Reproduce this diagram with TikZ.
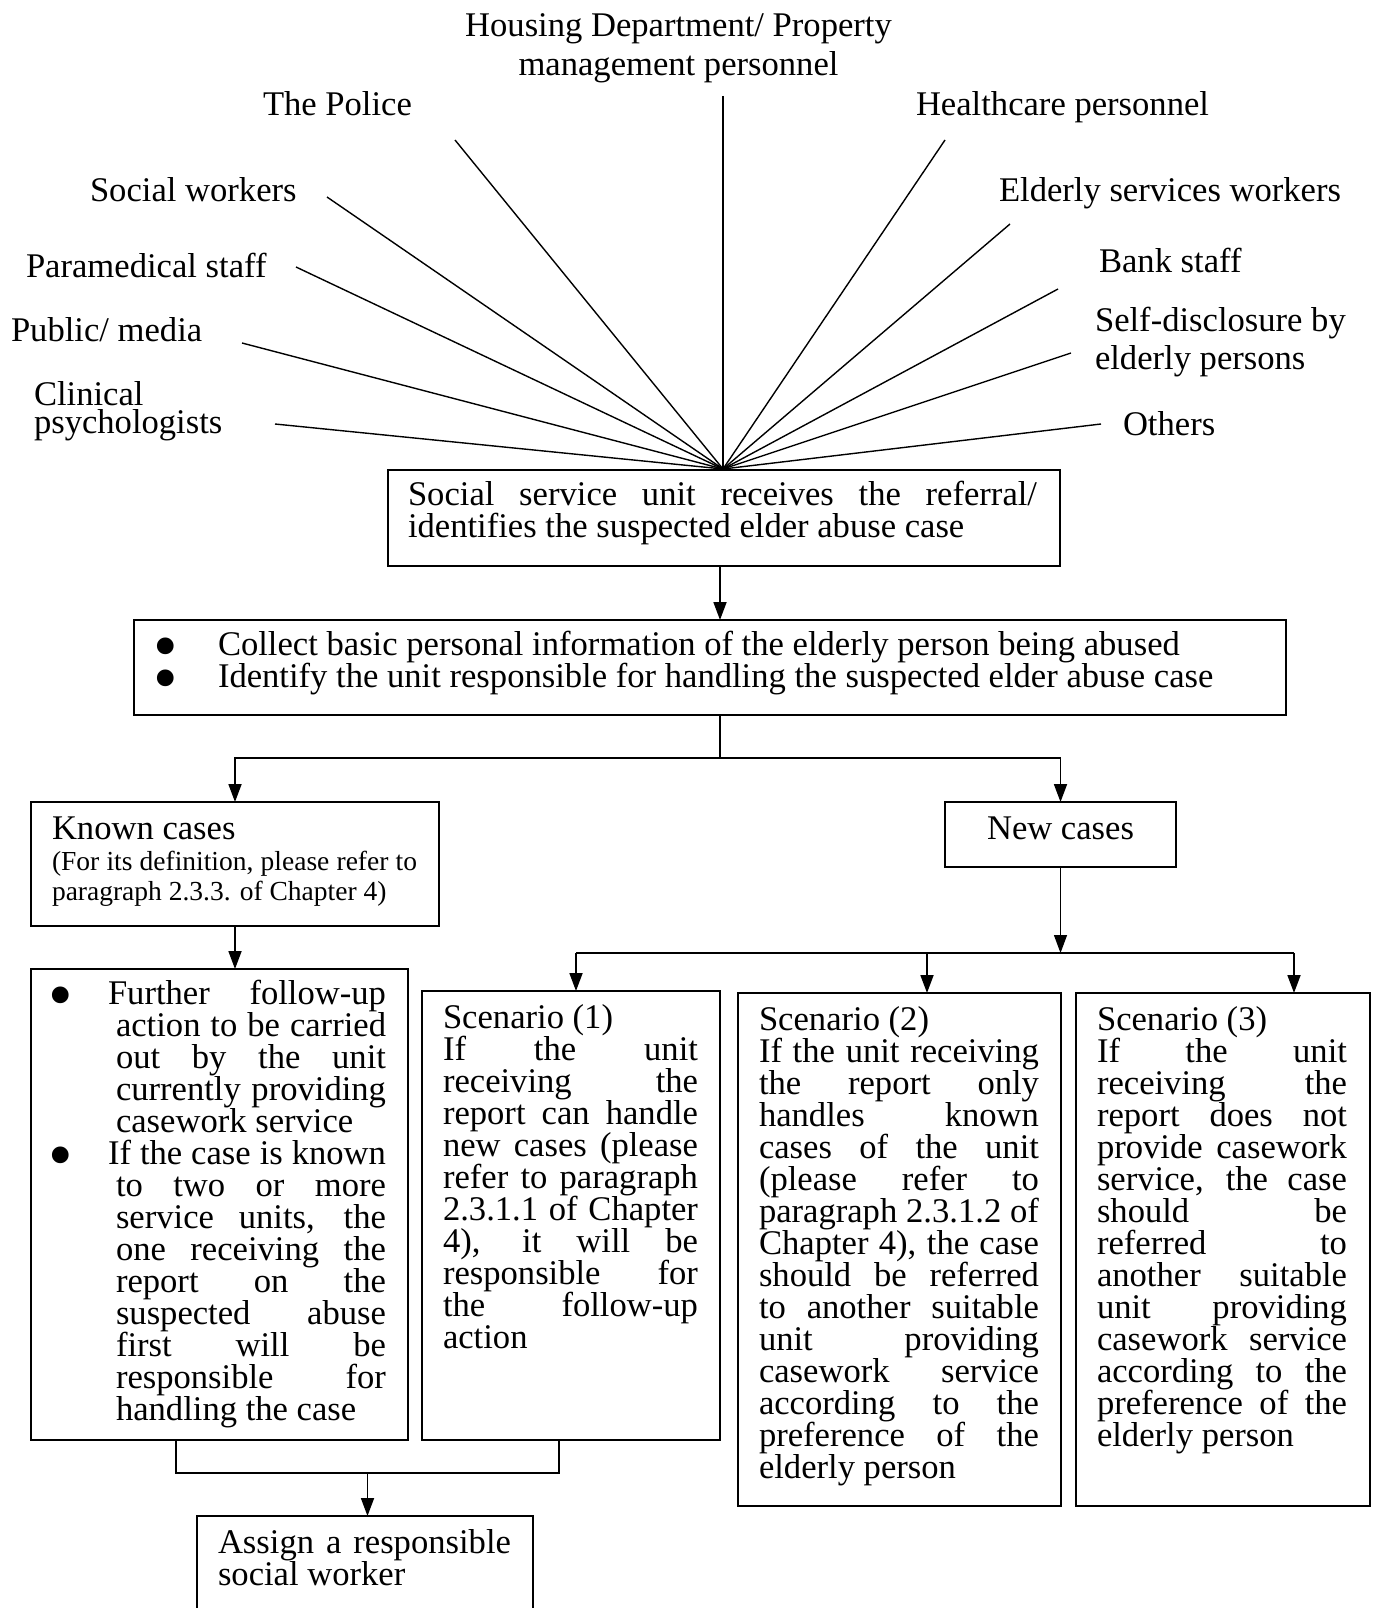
\documentclass[tikz,border=0pt]{standalone}
\usepackage{fontspec}
\setmainfont{Liberation Serif}
\usetikzlibrary{arrows.meta}
\newcommand{\jline}[1]{\hbox to \hsize{#1}}
\newcommand{\pline}[1]{\hbox{#1}}
\newcommand{\txtblock}[3]{\vtop{\hsize=#1\baselineskip=#2\lineskiplimit=-1000pt\lineskip=0pt\relax #3}}
\newcommand{\bul}{\raisebox{-14.5pt}{\fontsize{70}{70}\selectfont •}}
\newcommand{\bjline}[2]{\hbox to \hsize{\llap{\hbox to #1{\bul\hfil}}\kern-8pt #2}}
\newcommand{\bpline}[2]{\hbox{\llap{\hbox to #1{\bul\hfil}}#2}}
\begin{document}
\begin{tikzpicture}[x=1pt,y=-1pt,
  every node/.style={inner sep=0pt, outer sep=0pt, font=\fontsize{34.6}{32}\selectfont},
  txt/.style={anchor=base west},
  ctxt/.style={anchor=base},
  box/.style={draw, line width=1.8pt, anchor=north west},
  conn/.style={line width=1.8pt},
  thinconn/.style={line width=1.2pt},
  arr/.style={line width=1.8pt, -{Triangle[length=18pt,width=13pt]}},
  fan/.style={line width=1.4pt}]
\useasboundingbox (0,0) rectangle (1375,1608);
\fill[white] (0,0) rectangle (1375,1608);

% ---------- sources ----------
\node[ctxt] (lHousingA) at (678.5,36.5) {Housing Department/ Property};
\node[ctxt] (lHousingB) at (678.5,76) {management personnel};
\node[txt] (lPolice) at (263,116) {The Police};
\node[txt] (lHealth) at (916,116) {Healthcare personnel};
\node[txt] (lSocial) at (90,201) {Social workers};
\node[txt] (lElderly) at (999,201) {Elderly services workers};
\node[txt] (lPara) at (26,277) {Paramedical staff};
\node[txt] (lBank) at (1099,272) {Bank staff};
\node[txt] (lPublic) at (11,341) {Public/ media};
\node[txt] (lSelfA) at (1095,331) {Self-disclosure by};
\node[txt] (lSelfB) at (1095,369) {elderly persons};
\node[txt] (lClinA) at (34,405) {Clinical};
\node[txt] (lClinB) at (34,433) {psychologists};
\node[txt] (lOthers) at (1123,435) {Others};

\coordinate (hub) at (723,469);
\coordinate (pHousing) at (723,96);
\coordinate (pPolice) at (455,140);
\coordinate (pHealth) at (945,140);
\coordinate (pSocial) at (327,197);
\coordinate (pElderly) at (1010,224);
\coordinate (pPara) at (296,267);
\coordinate (pBank) at (1058,289);
\coordinate (pPublic) at (242,343);
\coordinate (pSelf) at (1071,353);
\coordinate (pClin) at (275,424);
\coordinate (pOthers) at (1101,424);
\foreach \p in {pHousing,pPolice,pHealth,pSocial,pElderly,pPara,pBank,pPublic,pSelf,pClin,pOthers}
  \draw[fan] (\p) -- (hub);

% ---------- boxes ----------
\node[box, minimum width=672pt, minimum height=96pt] (b1) at (388,470) {};
\node[txt] (t1) at (408,505) {\txtblock{629pt}{32pt}{%
  \jline{Social service unit receives the referral/}%
  \pline{identifies the suspected elder abuse case}}};

\node[box, minimum width=1152pt, minimum height=95pt] (b2) at (134,620) {};
\node[txt] (t2) at (218,655) {\txtblock{1000pt}{32pt}{%
  \bpline{64.5pt}{Collect basic personal information of the elderly person being abused}%
  \bpline{64.5pt}{Identify the unit responsible for handling the suspected elder abuse case}}};

\node[box, minimum width=408pt, minimum height=124pt] (known) at (31,802) {};
\node[txt] (tk1) at (52,839) {Known cases};
\node[txt] (tk2) at (52,870) {\txtblock{365pt}{30pt}{\fontsize{27.5}{30}\selectfont
  \jline{(For its definition, please refer to}%
  \pline{paragraph 2.3.3. of Chapter 4)}}};

\node[box, minimum width=231pt, minimum height=65pt] (new) at (945,802) {};
\node[ctxt] (tn) at (1060.5,839) {New cases};

\node[box, minimum width=377pt, minimum height=471pt] (fu) at (31,969) {};
\node[txt] (tf) at (116,1004) {\txtblock{270pt}{32pt}{%
  \bjline{67.5pt}{Further follow-up}%
  \jline{action to be carried}%
  \jline{out by the unit}%
  \jline{currently providing}%
  \pline{casework service}%
  \bjline{67.5pt}{If the case is known}%
  \jline{to two or more}%
  \jline{service units, the}%
  \jline{one receiving the}%
  \jline{report on the}%
  \jline{suspected abuse}%
  \jline{first will be}%
  \jline{responsible for}%
  \pline{handling the case}}};

\node[box, minimum width=298pt, minimum height=449pt] (s1) at (422,991) {};
\node[txt] (ts1) at (443,1028) {\txtblock{255pt}{32pt}{%
  \pline{Scenario (1)}%
  \jline{If the unit}%
  \jline{receiving the}%
  \jline{report can handle}%
  \jline{new cases (please}%
  \jline{refer to paragraph}%
  \jline{2.3.1.1 of Chapter}%
  \jline{4), it will be}%
  \jline{responsible for}%
  \jline{the follow-up}%
  \pline{action}}};

\node[box, minimum width=323pt, minimum height=513pt] (s2) at (738,993) {};
\node[txt] (ts2) at (759,1030) {\txtblock{280pt}{32pt}{%
  \pline{Scenario (2)}%
  \jline{If the unit receiving}%
  \jline{the report only}%
  \jline{handles known}%
  \jline{cases of the unit}%
  \jline{(please refer to}%
  \jline{paragraph 2.3.1.2 of}%
  \jline{Chapter 4), the case}%
  \jline{should be referred}%
  \jline{to another suitable}%
  \jline{unit providing}%
  \jline{casework service}%
  \jline{according to the}%
  \jline{preference of the}%
  \pline{elderly person}}};

\node[box, minimum width=294pt, minimum height=513pt] (s3) at (1076,993) {};
\node[txt] (ts3) at (1097,1030) {\txtblock{250pt}{32pt}{%
  \pline{Scenario (3)}%
  \jline{If the unit}%
  \jline{receiving the}%
  \jline{report does not}%
  \jline{provide casework}%
  \jline{service, the case}%
  \jline{should be}%
  \jline{referred to}%
  \jline{another suitable}%
  \jline{unit providing}%
  \jline{casework service}%
  \jline{according to the}%
  \jline{preference of the}%
  \pline{elderly person}}};

\node[box, minimum width=336pt, minimum height=120pt] (assign) at (197,1516) {};
\node[txt] (ta) at (218,1553) {\txtblock{293pt}{32pt}{%
  \jline{Assign a responsible}%
  \pline{social worker}}};

% ---------- connectors ----------
\coordinate (c1) at (720,566);
\draw[arr] (c1) -- (c1 |- b2.north);
\coordinate (j1) at (720,758);
\draw[thinconn] (c1 |- b2.south) -- (j1);
\draw[arr] (j1) -| (known.north);
\draw[arr] (j1) -| (new.north);
\draw[arr] (known.south) -- (known.south |- fu.north);
\coordinate (j2) at (1060.5,953);
\draw[arr, line width=1.3pt] (new.south) -- (j2);
\coordinate (q1) at (576,953);
\coordinate (q2) at (927,953);
\coordinate (q3) at (1294,953);
\draw[conn] (q1) -- (q3);
\draw[arr] (q1) -- (q1 |- s1.north);
\draw[arr] (q2) -- (q2 |- s2.north);
\draw[arr] (q3) -- (q3 |- s3.north);
\coordinate (m1) at (176,1473);
\coordinate (m2) at (559,1473);
\coordinate (m) at (367.5,1473);
\draw[conn] (m1 |- fu.south) -- (m1) -- (m2) -- (m2 |- s1.south);
\draw[arr] (m) -- (m |- assign.north);
\end{tikzpicture}
\end{document}
